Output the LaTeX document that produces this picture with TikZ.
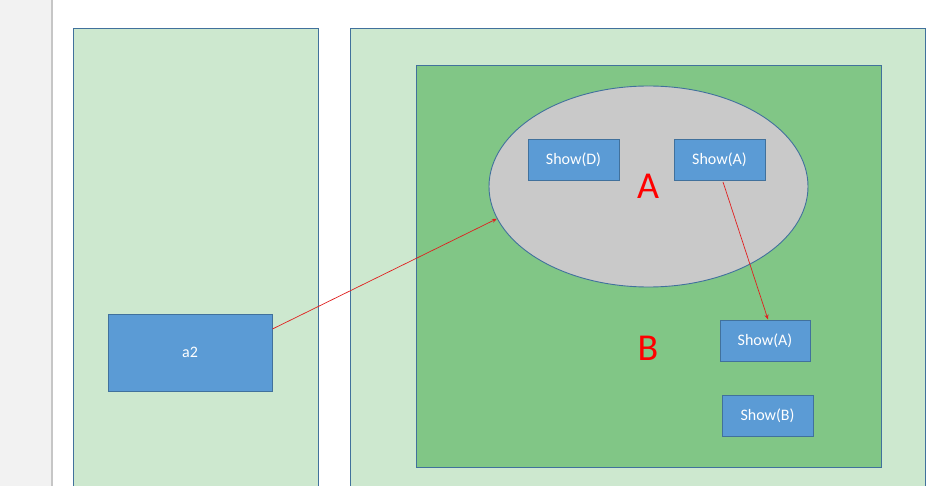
\documentclass[tikz,border=0pt]{standalone}
\usepackage{fontspec}
\setmainfont{Carlito}
\usetikzlibrary{shapes.geometric,arrows.meta,calc}
\definecolor{strip}{HTML}{F2F2F2}
\definecolor{stripline}{HTML}{C6C6C6}
\definecolor{paleg}{HTML}{CDE8CF}
\definecolor{darkg}{HTML}{81C686}
\definecolor{edge}{HTML}{41719C}
\definecolor{boxblue}{HTML}{5B9BD5}
\definecolor{ellgray}{HTML}{C9C9C9}
\definecolor{arr}{HTML}{E0201F}
\begin{document}
\begin{tikzpicture}[x=1pt,y=-1pt,
  panel/.style={draw=edge, line width=0.9pt, rectangle, inner sep=0pt, anchor=north west},
  showbox/.style={draw=edge, fill=boxblue, line width=0.9pt, rectangle, inner sep=0pt,
    text=white, font=\fontsize{16}{18}\selectfont},
  biglabel/.style={text=red, font=\fontsize{38}{40}\selectfont, inner sep=0pt},
  link/.style={draw=arr, line width=0.7pt, -{Stealth[length=5pt,width=4pt]}}]
\useasboundingbox (0,0) rectangle (935,486);
\clip (0,0) rectangle (935,486);
\fill[white] (0,0) rectangle (935,486);
\fill[strip] (0,0) rectangle (52,486);
\draw[stripline, line width=1.6pt] (52,0) -- (52,486);
% panels
\node[panel, fill=paleg, minimum width=245pt, minimum height=480pt] (left) at (73,28) {};
\node[panel, fill=paleg, minimum width=575pt, minimum height=480pt] (right) at (350,28) {};
\node[panel, fill=darkg, minimum width=465pt, minimum height=402pt] (inner) at (416,65) {};
% ellipse
\node[ellipse, draw=edge, fill=ellgray, line width=0.9pt, minimum width=319pt, minimum height=201pt, inner sep=0pt] (ell) at (648.5,186.5) {};
% boxes
\node[showbox, minimum width=91pt, minimum height=41pt] (sd) at (573.5,159.5) {Show(D)};
\node[showbox, minimum width=91pt, minimum height=41pt] (sa1) at (719.5,159.5) {Show(A)};
\node[showbox, minimum width=90pt, minimum height=41pt] (sa2) at (765,340.5) {Show(A)};
\node[showbox, minimum width=91pt, minimum height=41pt] (sb) at (767.5,415.5) {Show(B)};
\node[showbox, minimum width=164pt, minimum height=77pt] (a2) at (190,352.5) {a2};
% labels
\node[biglabel] (la) at (648,186) {A};
\node[biglabel] (lb) at (648,348) {B};
% connectors
\coordinate (a2out) at ($(a2.east)+(0,-23.5)$);
\draw[link] (a2out) -- (ell.192);
\draw[link] ($(sa1.south)+(3.5,1.5)$) -- ($(sa2.north)+(3,0)$);
\end{tikzpicture}
\end{document}
